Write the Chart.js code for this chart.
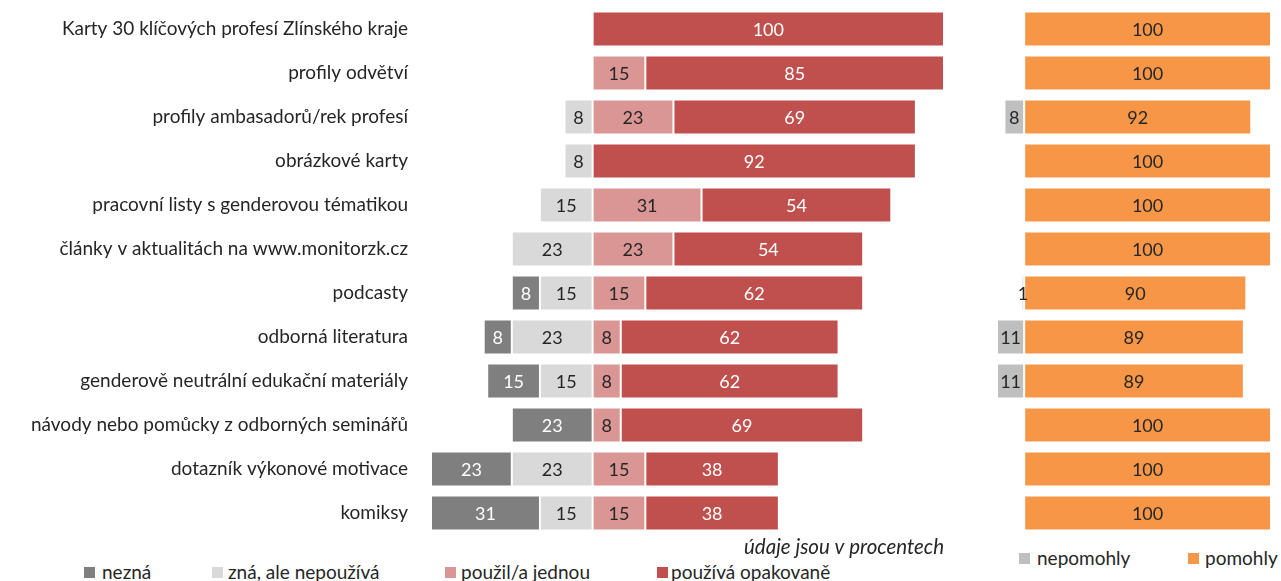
<!DOCTYPE html>
<html>
<head>
<meta charset="utf-8">
<script src="https://cdn.jsdelivr.net/npm/chart.js@4.4.0/dist/chart.umd.min.js"></script>
<style>
html, body { margin: 0; padding: 0; background: #fff; overflow: hidden; width: 1281px; height: 581px; }
#left { position: absolute; left: 0; top: 0; width: 950px; height: 560px; }
#right { position: absolute; left: 985px; top: 0; width: 296px; height: 535px; }
.legend { position: absolute; font-family: Lato, "Open Sans", sans-serif; font-size: 19px; color: #262626; white-space: nowrap; line-height: 20px; }
.legend i { position: absolute; width: 11px; height: 11px; top: 5px; }
.legend span { position: absolute; top: 0; }
</style>
</head>
<body>
<div id="left"><canvas id="leftChart"></canvas></div>
<div id="right"><canvas id="rightChart"></canvas></div>
<div id="leftLegend" class="legend" style="left:0;top:562px;"></div>
<div id="rightLegend" class="legend" style="left:0;top:548px;"></div>
<script>
// data (percent)
const categories = [
    'Karty 30 klíčových profesí Zlínského kraje',
    'profily odvětví',
    'profily ambasadorů/rek profesí',
    'obrázkové karty',
    'pracovní listy s genderovou tématikou',
    'články v aktualitách na www.monitorzk.cz',
    'podcasty',
    'odborná literatura',
    'genderově neutrální edukační materiály',
    'návody nebo pomůcky z odborných seminářů',
    'dotazník výkonové motivace',
    'komiksy'
];
const nezna = [0, 0, 0, 0, 0, 0, 8, 8, 15, 23, 23, 31];
const znaNepouziva = [0, 0, 8, 8, 15, 23, 15, 23, 15, 0, 23, 15];
const pouzilJednou = [0, 15, 23, 0, 31, 23, 15, 8, 8, 8, 15, 15];
const pouzivaOpakovane = [100, 85, 69, 92, 54, 54, 62, 62, 62, 69, 38, 38];
const nepomohly = [0, 0, 8, 0, 0, 0, 1, 11, 11, 0, 0, 0];
const pomohly = [100, 100, 92, 100, 100, 100, 90, 89, 89, 100, 100, 100];

const FONT = 'Lato, "Open Sans", sans-serif';
Chart.defaults.font.family = FONT;
Chart.defaults.font.size = 19;
Chart.defaults.color = '#262626';

// draws the value in the middle of each segment
const valueLabels = {
    id: 'valueLabels',
    afterDatasetsDraw(chart) {
        const ctx = chart.ctx;
        ctx.save();
        ctx.font = '18px ' + FONT;
        ctx.textAlign = 'center';
        ctx.textBaseline = 'middle';
        chart.data.datasets.forEach((ds, i) => {
            const meta = chart.getDatasetMeta(i);
            meta.data.forEach((bar, j) => {
                const v = ds.data[j];
                if (!v) return;
                ctx.fillStyle = ds.labelColor;
                ctx.fillText(Math.abs(v), (bar.x + bar.base) / 2, bar.y + 1);
            });
        });
        ctx.restore();
    }
};

function barDataset(label, values, color, textColor, negative) {
    return {
        label: label,
        data: values.map(v => negative ? -v : v),
        backgroundColor: color,
        borderColor: '#ffffff',
        borderWidth: 1,
        borderSkipped: false,
        labelColor: textColor,
        barPercentage: 0.8,
        categoryPercentage: 1
    };
}

// legend drawn as html text next to the canvases
function buildLegend(el, chart, order, boxXs, textXs) {
    order.forEach((name, k) => {
        const ds = chart.data.datasets.find(d => d.label === name);
        const box = document.createElement('i');
        box.style.left = boxXs[k] + 'px';
        box.style.background = ds.backgroundColor;
        const txt = document.createElement('span');
        txt.style.left = textXs[k] + 'px';
        txt.textContent = name;
        el.appendChild(box);
        el.appendChild(txt);
    });
}

const leftChart = new Chart(document.getElementById('leftChart'), {
    type: 'bar',
    data: {
        labels: categories,
        datasets: [
            barDataset('zná, ale nepoužívá', znaNepouziva, '#d9d9d9', '#262626', true),
            barDataset('nezná', nezna, '#7f7f7f', '#ffffff', true),
            barDataset('použil/a jednou', pouzilJednou, '#da9694', '#262626', false),
            barDataset('používá opakovaně', pouzivaOpakovane, '#c0504d', '#ffffff', false)
        ]
    },
    options: {
        indexAxis: 'y',
        responsive: true,
        maintainAspectRatio: false,
        animation: false,
        layout: { padding: { top: 7, left: 0, right: 6, bottom: 0 } },
        scales: {
            x: {
                stacked: true,
                min: -46,
                max: 100,
                grid: { display: false },
                border: { display: false },
                ticks: { display: false },
                title: {
                    display: true,
                    text: 'údaje jsou v procentech',
                    align: 'end',
                    color: '#262626',
                    font: { size: 20.5, style: 'italic' },
                    padding: { top: 1, bottom: 0 }
                },
                afterFit(scale) { scale.height = 25; }
            },
            y: {
                stacked: true,
                grid: { display: false },
                border: { display: false },
                ticks: { color: '#262626', padding: 15 },
                afterFit(scale) {
                    scale.width = 431;
                    scale.paddingTop = 0;
                    scale.paddingBottom = 0;
                }
            }
        },
        plugins: {
            legend: { display: false },
            tooltip: { enabled: false }
        }
    },
    plugins: [valueLabels]
});

const rightChart = new Chart(document.getElementById('rightChart'), {
    type: 'bar',
    data: {
        labels: categories,
        datasets: [
            barDataset('nepomohly', nepomohly, '#bfbfbf', '#262626', true),
            barDataset('pomohly', pomohly, '#f79646', '#262626', false)
        ]
    },
    options: {
        indexAxis: 'y',
        responsive: true,
        maintainAspectRatio: false,
        animation: false,
        layout: { padding: { top: 7, left: 12, right: 10, bottom: 0 } },
        scales: {
            x: { stacked: true, min: -11, max: 100, display: false },
            y: { stacked: true, display: false }
        },
        plugins: {
            legend: { display: false },
            tooltip: { enabled: false }
        }
    },
    plugins: [valueLabels]
});

buildLegend(document.getElementById('leftLegend'), leftChart,
    ['nezná', 'zná, ale nepoužívá', 'použil/a jednou', 'používá opakovaně'],
    [84, 212, 445, 657], [102, 228, 461, 671]);
buildLegend(document.getElementById('rightLegend'), rightChart,
    ['nepomohly', 'pomohly'],
    [1019, 1188], [1037, 1205]);
</script>
</body>
</html>
